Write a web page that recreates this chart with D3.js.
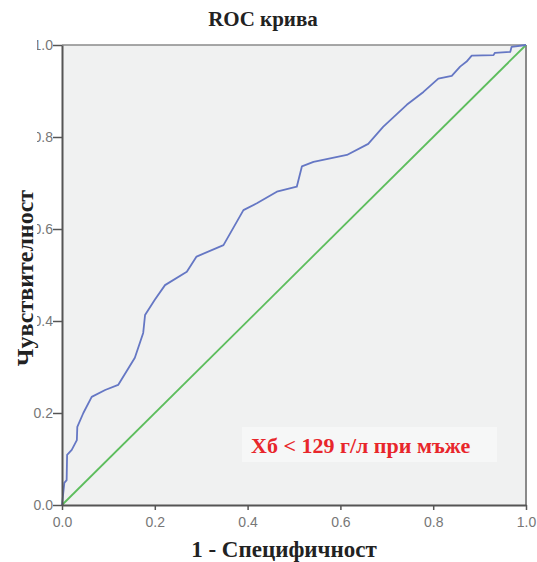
<!DOCTYPE html>
<html>
<head>
<meta charset="utf-8">
<script src="https://cdn.jsdelivr.net/npm/d3@7/dist/d3.min.js"></script>
<style>
  body { margin: 0; background: #fff; }
  svg { display: block; }
</style>
</head>
<body>
<svg id="chart"></svg>
<script>
// ROC curve points (1 - specificity, sensitivity)
const fpr = [0, 0.005, 0.01, 0.011, 0.021, 0.032, 0.033, 0.046, 0.064, 0.093, 0.121, 0.157, 0.175, 0.179, 0.2, 0.222,
  0.269, 0.29, 0.348, 0.391, 0.42, 0.463, 0.506, 0.517, 0.542, 0.614, 0.66, 0.692, 0.743, 0.779, 0.811, 0.84,
  0.858, 0.872, 0.883, 0.93, 0.933, 0.966, 0.969, 1.0];
const tpr = [0, 0.048, 0.054, 0.109, 0.12, 0.141, 0.17, 0.2, 0.235, 0.25, 0.261, 0.32, 0.374, 0.413, 0.446, 0.478,
  0.507, 0.54, 0.565, 0.641, 0.656, 0.681, 0.692, 0.736, 0.746, 0.761, 0.785, 0.822, 0.87, 0.898, 0.927, 0.933,
  0.953, 0.964, 0.977, 0.978, 0.983, 0.985, 0.996, 1.0];
const refLine = [0, 1];
const ticks = [0, 0.2, 0.4, 0.6, 0.8, 1.0];

const title = "ROC крива";
const xTitle = "1 - Специфичност";
const yTitle = "Чувствителност";
const note = "Хб < 129 г/л при мъже";

const width = 537, height = 562;
const svg = d3.select("#chart").attr("width", width).attr("height", height);

const margin = { top: 45, right: 11, bottom: 57, left: 62 };
const innerW = width - margin.left - margin.right;
const innerH = height - margin.top - margin.bottom;

const x = d3.scaleLinear().domain([0, 1]).range([margin.left, margin.left + innerW]);
const y = d3.scaleLinear().domain([0, 1]).range([margin.top + innerH, margin.top]);

const serif = "'Liberation Serif', 'Times New Roman', serif";
const sans = "'Liberation Sans', Arial, sans-serif";

// plot background
svg.append("rect")
  .attr("x", x(0)).attr("y", y(1))
  .attr("width", x(1) - x(0)).attr("height", y(0) - y(1))
  .attr("fill", "#f0f1f1");

// top and right frame
svg.append("line").attr("x1", x(0)).attr("x2", x(1)).attr("y1", y(1)).attr("y2", y(1))
  .attr("stroke", "#8a8a8a").attr("stroke-width", 1.5);
svg.append("line").attr("x1", x(1)).attr("x2", x(1)).attr("y1", y(1)).attr("y2", y(0))
  .attr("stroke", "#8a8a8a").attr("stroke-width", 2);

// annotation box
svg.append("rect")
  .attr("x", 242).attr("y", 427).attr("width", 255).attr("height", 35)
  .attr("fill", "#f6f7f7");

// reference diagonal
svg.append("path")
  .datum(refLine)
  .attr("d", d3.line().x(d => x(d)).y(d => y(d)))
  .attr("fill", "none")
  .attr("stroke", "#5dbd5d")
  .attr("stroke-width", 1.8);

// ROC curve
const pts = fpr.map((f, i) => [f, tpr[i]]);
svg.append("path")
  .datum(pts)
  .attr("d", d3.line().x(d => x(d[0])).y(d => y(d[1])))
  .attr("fill", "none")
  .attr("stroke", "#6577c4")
  .attr("stroke-width", 1.8)
  .attr("stroke-linejoin", "round");

// axes
const xAxis = svg.append("g")
  .attr("transform", `translate(0,${y(0)})`)
  .call(d3.axisBottom(x).tickValues(ticks).tickFormat(d3.format(".1f")).tickSizeInner(5).tickSizeOuter(0));
const yAxis = svg.append("g")
  .attr("transform", `translate(${x(0)},0)`)
  .call(d3.axisLeft(y).tickValues(ticks).tickFormat(d3.format(".1f")).tickSizeInner(9).tickSizeOuter(0));

[xAxis, yAxis].forEach(a => {
  a.select(".domain").attr("stroke", "#555").attr("stroke-width", 2);
  a.selectAll(".tick line").attr("stroke", "#555").attr("stroke-width", 1.5);
  a.selectAll(".tick text").attr("fill", "#777").style("font-family", sans).style("font-size", "14px");
});
xAxis.selectAll(".tick text").attr("dy", "1.0em");
yAxis.selectAll(".tick text").attr("x", -9);

// upper y labels are cut off on the left in the original
yAxis.selectAll(".tick").filter(d => d >= 0.4).each(function (d) {
  const id = "clip-" + Math.round(d * 10);
  const g = d3.select(this);
  g.append("clipPath").attr("id", id)
    .append("rect").attr("x", 37 - x(0)).attr("y", -12).attr("width", 40).attr("height", 24);
  g.select("text").attr("clip-path", `url(#${id})`);
});

// titles
svg.append("text")
  .attr("x", 263).attr("y", 26)
  .attr("text-anchor", "middle")
  .style("font-family", serif).style("font-weight", "bold").style("font-size", "21px")
  .attr("fill", "#222")
  .text(title);

svg.append("text")
  .attr("x", 284).attr("y", 557)
  .attr("text-anchor", "middle")
  .style("font-family", serif).style("font-weight", "bold").style("font-size", "23px")
  .attr("fill", "#222")
  .text(xTitle);

svg.append("text")
  .attr("transform", `translate(33,${278}) rotate(-90)`)
  .attr("text-anchor", "middle")
  .style("font-family", serif).style("font-weight", "bold").style("font-size", "24px")
  .attr("fill", "#222")
  .text(yTitle);

svg.append("text")
  .attr("x", 251).attr("y", 453)
  .style("font-family", serif).style("font-weight", "bold").style("font-size", "22px")
  .attr("fill", "#e8262b")
  .text(note);
</script>
</body>
</html>
